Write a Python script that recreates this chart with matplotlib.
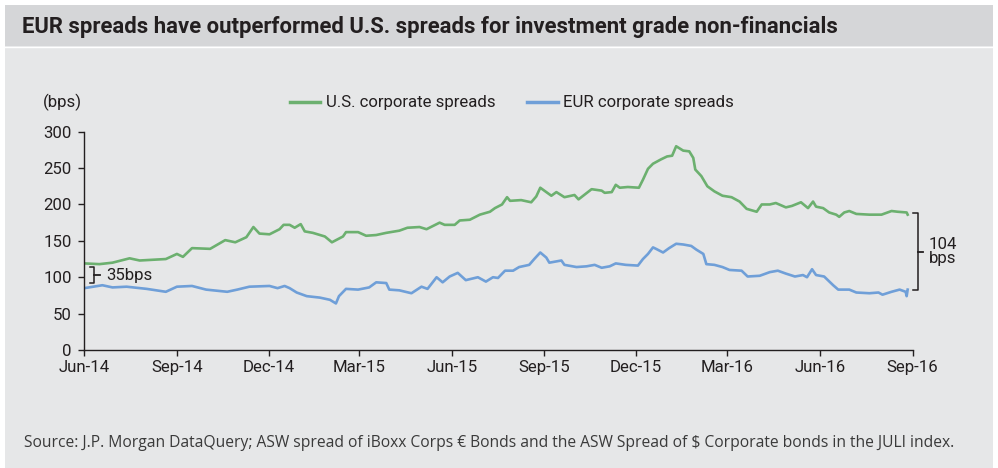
import numpy as np
import pandas as pd
import matplotlib
matplotlib.use("Agg")
import matplotlib.pyplot as plt
import matplotlib.dates as mdates
import matplotlib.transforms as mtransforms
from matplotlib.patches import Rectangle

plt.rcParams['font.family'] = ['DejaVu Sans Condensed', 'Liberation Sans Narrow', 'Roboto', 'DejaVu Sans']

TITLE = "EUR spreads have outperformed U.S. spreads for investment grade non-financials"
SOURCE = ("Source: J.P. Morgan DataQuery; ASW spread of iBoxx Corps \u20ac Bonds and the ASW Spread "
          "of $ Corporate bonds in the JULI index.")

# U.S. corporate spreads (bps)
us_dates = ["2014-06-01", "2014-06-16", "2014-06-29", "2014-07-16", "2014-07-26", "2014-08-21",
            "2014-09-01", "2014-09-07", "2014-09-16", "2014-10-04", "2014-10-19", "2014-10-29",
            "2014-11-09", "2014-11-16", "2014-11-22", "2014-12-02", "2014-12-12", "2014-12-16",
            "2014-12-22", "2014-12-27", "2015-01-02", "2015-01-06", "2015-01-14", "2015-01-26",
            "2015-02-02", "2015-02-13", "2015-02-16", "2015-02-28", "2015-03-08", "2015-03-18",
            "2015-03-28", "2015-04-10", "2015-04-18", "2015-04-30", "2015-05-07", "2015-05-20",
            "2015-05-25", "2015-06-04", "2015-06-09", "2015-06-19", "2015-06-29", "2015-07-09",
            "2015-07-14", "2015-07-21", "2015-07-26", "2015-07-29", "2015-08-09", "2015-08-19",
            "2015-08-24", "2015-08-28", "2015-09-01", "2015-09-08", "2015-09-13", "2015-09-21",
            "2015-10-01", "2015-10-05", "2015-10-18", "2015-10-28", "2015-10-31", "2015-11-07",
            "2015-11-11", "2015-11-15", "2015-11-23", "2015-12-04", "2015-12-08", "2015-12-13",
            "2015-12-18", "2015-12-26", "2016-01-01", "2016-01-06", "2016-01-10", "2016-01-17",
            "2016-01-23", "2016-01-27", "2016-01-29", "2016-02-04", "2016-02-10", "2016-02-17",
            "2016-02-25", "2016-03-05", "2016-03-13", "2016-03-20", "2016-03-30", "2016-04-04",
            "2016-04-12", "2016-04-18", "2016-04-28", "2016-05-04", "2016-05-13", "2016-05-20",
            "2016-05-25", "2016-05-28", "2016-06-04", "2016-06-10", "2016-06-17", "2016-06-20",
            "2016-06-25", "2016-06-30", "2016-07-07", "2016-07-20", "2016-08-01", "2016-08-11",
            "2016-08-17", "2016-08-26", "2016-08-27"]
us_bps = [119, 118, 120, 126, 123, 125,
          132, 128, 140, 139, 151, 148,
          155, 169, 160, 159, 166, 172,
          172, 168, 173, 163, 161, 156,
          148, 156, 162, 162, 157, 158,
          161, 164, 168, 169, 166, 175,
          172, 172, 178, 179, 186, 190,
          195, 200, 210, 205, 206, 203,
          211, 223, 219, 212, 217, 210,
          213, 207, 221, 219, 216, 217,
          227, 223, 224, 223, 234, 249,
          256, 262, 266, 267, 280, 274,
          273, 264, 248, 239, 225, 218,
          212, 210, 204, 194, 190, 200,
          200, 202, 196, 198, 203, 195,
          204, 197, 195, 189, 186, 183,
          189, 191, 187, 186, 186, 191,
          190, 189, 186]

# EUR corporate spreads (bps)
eur_dates = ["2014-06-01", "2014-06-19", "2014-06-29", "2014-07-13", "2014-08-02", "2014-08-21",
             "2014-09-01", "2014-09-16", "2014-09-30", "2014-10-21", "2014-10-31", "2014-11-12",
             "2014-12-02", "2014-12-10", "2014-12-17", "2014-12-22", "2014-12-29", "2015-01-08",
             "2015-01-21", "2015-01-31", "2015-02-06", "2015-02-09", "2015-02-16", "2015-02-28",
             "2015-03-11", "2015-03-18", "2015-03-28", "2015-03-31", "2015-04-10", "2015-04-22",
             "2015-05-02", "2015-05-08", "2015-05-17", "2015-05-23", "2015-05-30", "2015-06-07",
             "2015-06-15", "2015-06-27", "2015-07-05", "2015-07-12", "2015-07-17", "2015-07-24",
             "2015-08-01", "2015-08-07", "2015-08-17", "2015-08-22", "2015-08-28", "2015-09-03",
             "2015-09-06", "2015-09-18", "2015-09-21", "2015-10-03", "2015-10-13", "2015-10-21",
             "2015-10-28", "2015-11-05", "2015-11-11", "2015-11-21", "2015-12-03", "2015-12-08",
             "2015-12-13", "2015-12-18", "2015-12-21", "2015-12-28", "2016-01-03", "2016-01-10",
             "2016-01-17", "2016-01-25", "2016-01-30", "2016-02-06", "2016-02-09", "2016-02-17",
             "2016-02-25", "2016-03-03", "2016-03-15", "2016-03-21", "2016-04-02", "2016-04-12",
             "2016-04-20", "2016-04-28", "2016-05-07", "2016-05-15", "2016-05-19", "2016-05-24",
             "2016-05-28", "2016-06-05", "2016-06-14", "2016-06-19", "2016-06-30", "2016-07-07",
             "2016-07-20", "2016-07-29", "2016-08-02", "2016-08-11", "2016-08-19", "2016-08-25",
             "2016-08-26", "2016-08-27"]
eur_bps = [85, 89, 86, 87, 84, 80,
           87, 88, 83, 80, 83, 87,
           88, 85, 88, 85, 79, 74,
           72, 69, 64, 74, 84, 83,
           86, 93, 92, 83, 82, 78,
           87, 84, 100, 93, 101, 106,
           96, 100, 94, 100, 99, 109,
           109, 114, 117, 125, 134, 127,
           120, 123, 117, 114, 115, 117,
           113, 115, 119, 117, 116, 125,
           132, 141, 139, 134, 140, 146,
           145, 143, 138, 132, 118, 117,
           114, 110, 109, 101, 102, 107,
           109, 105, 101, 103, 100, 111,
           103, 101, 89, 83, 83, 79,
           78, 79, 76, 80, 83, 80,
           74, 83]

TXT = '#231f20'
GREEN = '#6cb06f'
BLUE = '#6f9fd8'
PANEL = '#e6e7e8'
BAND = '#d5d6d8'

W, H = 998, 468


def fx(px):
    return px / W


def fy(py):
    return 1 - py / H


def fit_width(fig, txt, target_px):
    # shrink/grow a text so that its rendered width matches the reference
    r = fig.canvas.get_renderer()
    w = txt.get_window_extent(renderer=r).width
    txt.set_fontsize(txt.get_fontsize() * target_px / w)


fig = plt.figure(figsize=(W / 100, H / 100), dpi=100)
fig.patch.set_facecolor('white')

# background panel and title band
fig.patches.append(Rectangle((fx(5), 0), fx(988), fy(5), transform=fig.transFigure,
                             facecolor=PANEL, edgecolor='none', zorder=-10))
fig.patches.append(Rectangle((fx(5), fy(46)), fx(988), fy(5) - fy(46), transform=fig.transFigure,
                             facecolor=BAND, edgecolor='none', zorder=-9))
fig.lines.append(plt.Line2D([fx(5), fx(993)], [fy(47), fy(47)], transform=fig.transFigure,
                            color='white', lw=1, zorder=-8))

title = fig.text(fx(22), fy(27), TITLE, fontsize=15.5, fontweight='bold', color=TXT,
                 ha='left', va='center')
fit_width(fig, title, 816)
source = fig.text(fx(24), fy(443), SOURCE, fontsize=10.2, color='#3a3a3a', ha='left', va='center',
                  family=['Open Sans', 'DejaVu Sans'])
fit_width(fig, source, 930)
bps = fig.text(fx(43), fy(102), "(bps)", fontsize=12, color=TXT, ha='left', va='center')
fit_width(fig, bps, 39)
FS = bps.get_fontsize()

ax = fig.add_axes([fx(84.3), fy(350), fx(912.7) - fx(84.3), fy(131.7) - fy(350)])
ax.set_facecolor('none')

us_x = pd.to_datetime(us_dates)
eur_x = pd.to_datetime(eur_dates)
ax.plot(us_x, us_bps, color=GREEN, lw=1.9, label='U.S. corporate spreads')
ax.plot(eur_x, eur_bps, color=BLUE, lw=1.9, label='EUR corporate spreads')

ax.set_xlim(pd.Timestamp('2014-06-01'), pd.Timestamp('2016-09-01'))
ax.set_ylim(0, 300)
ax.set_yticks(np.arange(0, 301, 50))
ax.xaxis.set_major_locator(mdates.MonthLocator(bymonth=[3, 6, 9, 12]))
ax.xaxis.set_major_formatter(mdates.DateFormatter('%b-%y'))

for s in ['top', 'right']:
    ax.spines[s].set_visible(False)
for s in ['left', 'bottom']:
    ax.spines[s].set_color(TXT)
    ax.spines[s].set_linewidth(1)
ax.tick_params(axis='both', colors=TXT, labelsize=FS, length=4, width=1, direction='out')
ax.tick_params(axis='y', pad=5)
ax.tick_params(axis='x', pad=3)

leg = fig.legend(loc='center', bbox_to_anchor=(fx(512), fy(103)), ncol=2, frameon=False,
                 fontsize=FS, handlelength=1.8, handletextpad=0.35, columnspacing=1.9)
for t in leg.get_texts():
    t.set_color(TXT)
for h in leg.legend_handles:
    h.set_linewidth(2.5)

# gap annotations
trans = mtransforms.blended_transform_factory(ax.transAxes, ax.transData)
top_r, bot_r = us_bps[-1] + 2, eur_bps[-1] - 1
ax.plot([1.0005, 1.0068, 1.0068, 1.0005], [top_r, top_r, bot_r, bot_r], color=TXT, lw=1.1,
        transform=trans, clip_on=False)
mid_r = (top_r + bot_r) / 2
ax.plot([1.0068, 1.0124], [mid_r, mid_r], color=TXT, lw=1.3, transform=trans, clip_on=False)
ax.text(1.019, mid_r, "104\nbps", transform=trans, fontsize=FS, color=TXT, ha='left',
        va='center', linespacing=0.95)

top_l, bot_l = 114, 92
ax.plot([0.007, 0.0115, 0.0115, 0.007], [top_l, top_l, bot_l, bot_l], color=TXT, lw=1.1,
        transform=trans, clip_on=False)
ax.plot([0.0115, 0.0195], [(top_l + bot_l) / 2] * 2, color=TXT, lw=1.3, transform=trans,
        clip_on=False)
ax.text(0.026, (top_l + bot_l) / 2, "35bps", transform=trans, fontsize=FS, color=TXT,
        ha='left', va='center')

fig.savefig('out.png', dpi=100, facecolor=fig.get_facecolor())
